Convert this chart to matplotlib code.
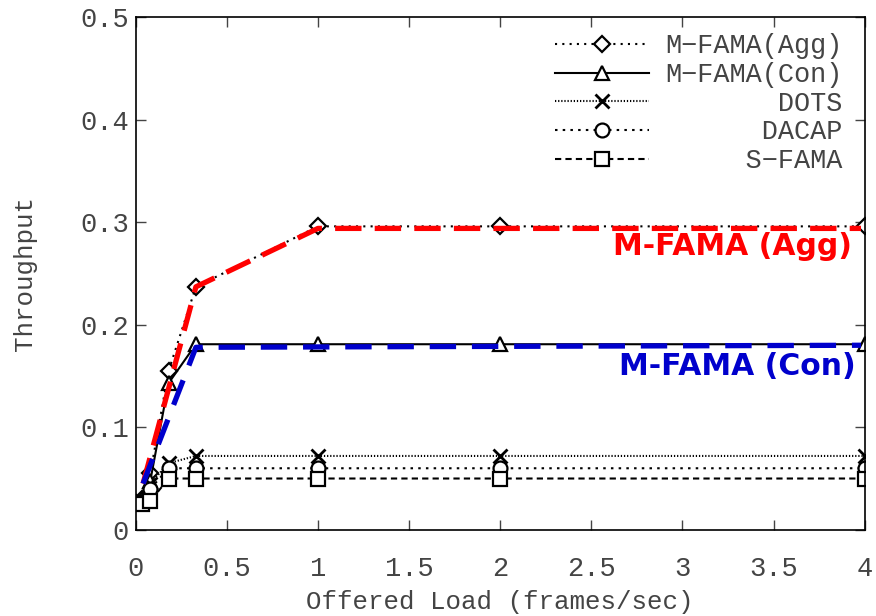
import matplotlib
matplotlib.use("Agg")
import matplotlib.pyplot as plt

# offered load (frames/sec)
carga = [0.033, 0.08, 0.18, 0.33, 1, 2, 4]

# throughput de cada protocolo
agg = [0.030, 0.055, 0.155, 0.237, 0.296, 0.296, 0.296]
con = [0.030, 0.048, 0.143, 0.181, 0.181, 0.181, 0.181]
dots = [0.028, 0.045, 0.065, 0.072, 0.072, 0.072, 0.072]
dacap = [0.027, 0.040, 0.060, 0.060, 0.060, 0.060, 0.060]
sfama = [0.025, 0.028, 0.050, 0.050, 0.050, 0.050, 0.050]

# linhas de destaque (tracejadas coloridas)
agg_x = [0.04, 0.33, 1, 3.98]
agg_y = [0.045, 0.237, 0.294, 0.294]
con_x = [0.04, 0.33, 3.98]
con_y = [0.045, 0.178, 0.180]

nomes = ["M−FAMA(Agg)", "M−FAMA(Con)", "DOTS", "DACAP", "S−FAMA"]
largura = max(len(n) for n in nomes)
nomes = [n.rjust(largura) for n in nomes]

mono = "Liberation Mono"
cinza = "#444444"

fig = plt.figure(figsize=(8.76, 6.16), dpi=100)
ax = fig.add_axes([0.155, 0.140, 0.832, 0.832])

estilo = dict(color="black", lw=1.5, markersize=10, markeredgewidth=1.6,
              markerfacecolor="white", markeredgecolor="black")

ax.plot(carga, agg, linestyle=(0, (1, 2.5)), marker="D", label=nomes[0], **{**estilo, "markersize": 8.5})
ax.plot(carga, con, linestyle="-", marker="^", label=nomes[1], **estilo)
ax.plot(carga, dots, linestyle=(0, (0.6, 0.9)), marker="x", label=nomes[2], **{**estilo, "markeredgewidth": 2})
ax.plot(carga, dacap, linestyle=(0, (1.2, 2.5)), marker="o", label=nomes[3], **estilo)
ax.plot(carga, sfama, linestyle=(0, (3, 2)), marker="s", label=nomes[4], **estilo)

ax.plot(agg_x, agg_y, color="#ff0000", lw=3.8, dashes=(5, 2.5), zorder=5)
ax.plot(con_x, con_y, color="#0000cc", lw=3.8, dashes=(5, 3), zorder=5)

ax.text(3.93, 0.276, "M-FAMA (Agg)", color="#ff0000", fontsize=21.5, fontweight="bold",
        ha="right", va="center", family="DejaVu Sans", zorder=6)
ax.text(3.95, 0.159, "M-FAMA (Con)", color="#0000cc", fontsize=21.5, fontweight="bold",
        ha="right", va="center", family="DejaVu Sans", zorder=6)

ax.set_xlim(0, 4)
ax.set_ylim(0, 0.5)
ax.set_xticks([0, 0.5, 1, 1.5, 2, 2.5, 3, 3.5, 4])
ax.set_xticklabels(["0", "0.5", "1", "1.5", "2", "2.5", "3", "3.5", "4"])
ax.set_yticks([0, 0.1, 0.2, 0.3, 0.4, 0.5])
ax.set_yticklabels(["0", "0.1", "0.2", "0.3", "0.4", "0.5"])
ax.tick_params(direction="in", length=7, width=1, color=cinza, top=True, right=True,
               labelsize=19.5, labelcolor=cinza)
ax.tick_params(axis="x", pad=19)
ax.tick_params(axis="y", pad=5)
for lab in ax.get_xticklabels() + ax.get_yticklabels():
    lab.set_family(mono)

ax.set_xlabel("Offered Load (frames/sec)", family=mono, fontsize=18.6, color=cinza, labelpad=6)
ax.set_ylabel("Throughput", family=mono, fontsize=18.6, color=cinza, labelpad=31)

for sp in ax.spines.values():
    sp.set_linewidth(1.2)

leg = ax.legend(loc="upper right", bbox_to_anchor=(1.003, 1.016), frameon=False,
                handlelength=3.5, handletextpad=0.6, labelspacing=0.1,
                prop={"family": mono, "size": 19.4})
for t in leg.get_texts():
    t.set_color(cinza)

fig.savefig("out.png", dpi=100)
